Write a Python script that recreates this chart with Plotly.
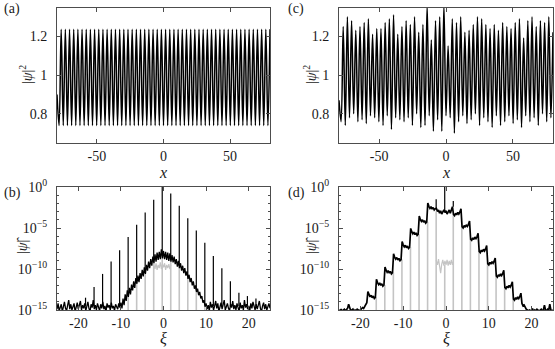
import numpy as np
import plotly.graph_objects as go

# ---------------- data ----------------
# top panels: |psi|^2 extrema, sampled evenly from x=-80 to x=80
a_start = 0.90
a_troughs = [0.74, 0.74, 0.74, 0.74, 0.74, 0.74, 0.74, 0.74, 0.74, 0.74,
             0.74, 0.74, 0.74, 0.74, 0.74, 0.74, 0.74, 0.74, 0.74, 0.74,
             0.74, 0.74, 0.74, 0.74, 0.74, 0.74, 0.74, 0.74, 0.74, 0.74,
             0.74, 0.74, 0.74, 0.74, 0.74, 0.74, 0.74, 0.74, 0.74, 0.74,
             0.74, 0.74, 0.74, 0.74, 0.74, 0.74, 0.74, 0.74, 0.74, 0.74, 0.74]
a_peaks = [1.235, 1.235, 1.235, 1.235, 1.235, 1.235, 1.235, 1.235, 1.235, 1.235,
           1.235, 1.235, 1.235, 1.235, 1.235, 1.235, 1.235, 1.235, 1.235, 1.235,
           1.235, 1.235, 1.235, 1.235, 1.235, 1.235, 1.235, 1.235, 1.235, 1.235,
           1.235, 1.235, 1.235, 1.235, 1.235, 1.235, 1.235, 1.235, 1.235, 1.235,
           1.235, 1.235, 1.235, 1.235, 1.235, 1.235, 1.235, 1.235, 1.235, 1.235, 1.235]

c_start = 0.87
c_troughs = [0.76, 0.74, 0.78, 0.80, 0.76, 0.77, 0.75, 0.79, 0.78, 0.76,
             0.74, 0.79, 0.72, 0.78, 0.77, 0.76, 0.78, 0.74, 0.80, 0.73,
             0.74, 0.79, 0.71, 0.77, 0.71, 0.79, 0.78, 0.70, 0.76, 0.79,
             0.75, 0.77, 0.80, 0.74, 0.78, 0.76, 0.73, 0.79, 0.74, 0.76,
             0.79, 0.75, 0.77, 0.73, 0.79, 0.76, 0.78, 0.74, 0.80, 0.76, 0.78]
c_peaks = [1.25, 1.30, 1.28, 1.23, 1.25, 1.27, 1.29, 1.21, 1.24, 1.24,
           1.27, 1.29, 1.31, 1.21, 1.25, 1.28, 1.26, 1.30, 1.22, 1.26,
           1.36, 1.18, 1.28, 1.30, 1.36, 1.15, 1.29, 1.27, 1.30, 1.22,
           1.23, 1.26, 1.30, 1.29, 1.26, 1.24, 1.26, 1.23, 1.27, 1.25,
           1.24, 1.27, 1.29, 1.19, 1.28, 1.30, 1.25, 1.28, 1.27, 1.30, 1.22]

# bottom panels: log10 |psi_hat| on xi = -25, -24.75, ..., 25
b_log = [
    # xi -25 .. -10.25
    -14.9, -14.2, -15.1, -14.6, -14.3, -15.2, -14.5, -14.0, -14.8, -15.1,
    -14.4, -13.8, -14.9, -14.3, -15.0, -14.6, -14.2, -15.2, -14.7, -14.1,
    -14.9, -14.5, -13.9, -15.0, -14.4, -14.8, -14.2, -15.1, -14.6, -14.0,
    -14.8, -15.2, -14.3, -14.7, -13.8, -14.9, -14.4, -15.0, -14.2, -14.6,
    -15.1, -14.3, -14.8, -14.0, -14.9, -14.5, -15.2, -14.2, -14.7, -14.4,
    -15.0, -14.1, -14.8, -14.5, -15.1, -14.3, -14.6, -14.9, -14.2, -14.7,
    # xi -10 .. 9.75
    -14.1, -14.8, -13.6, -14.4, -13.1, -13.9, -12.6, -13.4, -12.3, -13.1,
    -11.9, -12.6, -11.5, -12.3, -11.1, -11.8, -10.8, -11.6, -10.5, -11.2,
    -10.1, -10.9, -9.8, -10.6, -9.5, -10.2, -9.1, -9.9, -8.8, -9.6,
    -8.5, -9.3, -8.2, -9.1, -8.0, -8.9, -7.9, -8.8, -7.6, -8.7,
    -7.8, -8.8, -7.9, -8.9, -8.0, -9.0, -8.1, -9.1, -8.3, -9.2,
    -8.5, -9.4, -8.8, -9.7, -9.0, -9.9, -9.3, -10.2, -9.6, -10.5,
    -9.9, -10.8, -10.3, -11.2, -10.7, -11.6, -11.1, -12.0, -11.5, -12.4,
    -12.0, -12.8, -12.4, -13.2, -12.8, -13.6, -13.3, -14.1, -13.8, -14.6,
    # xi 10 .. 25
    -14.2, -14.9, -14.4, -15.1, -14.0, -14.7, -14.3, -15.0, -14.5, -13.9,
    -14.8, -14.2, -15.2, -14.6, -14.1, -14.9, -14.4, -13.8, -15.0, -14.5,
    -14.2, -14.8, -15.1, -14.3, -14.7, -13.9, -14.9, -14.4, -15.0, -14.2,
    -14.6, -15.2, -14.1, -14.8, -14.4, -15.0, -13.8, -14.7, -14.3, -14.9,
    -14.5, -15.1, -14.2, -14.8, -14.0, -14.6, -15.0, -14.3, -14.9, -14.4,
    -13.9, -14.8, -15.2, -14.5, -14.1, -14.9, -14.3, -15.0, -14.6, -14.2, -14.8,
]
b_spike_xi = [-18.3, -16.3, -14.3, -12.3, -10.3, -8.3, -6.3, -4.3, -2.3, -0.3,
              1.7, 3.7, 5.7, 7.7, 9.7, 11.7, 13.7, 15.7, 17.7, 19.7, 21.7]
b_spike_base = [-14.5, -14.5, -14.5, -14.5, -14.5, -13.0, -11.5, -10.2, -8.9, -8.3,
                -8.6, -9.6, -11.0, -12.6, -14.3, -14.5, -14.5, -14.5, -14.5, -14.5, -14.5]
b_spike_top = [-13.5, -12.2, -10.6, -9.1, -7.7, -6.1, -4.6, -3.1, -1.55, 0.0,
               -0.8, -2.3, -3.8, -5.3, -6.8, -8.4, -9.9, -11.5, -12.9, -13.3, -13.6]
b_gray_xi = [-8.3, -6.3, -4.3, -2.3, -0.3, 1.7, 3.7, 5.7, 7.7, 9.7]
b_gray_top = [-13.0, -11.5, -10.2, -8.9, -8.3, -8.6, -9.6, -11.0, -12.6, -14.3]
b_block_xi = [-2.3, -2.0, -1.75, -1.5, -1.25, -1.0, -0.75, -0.5, -0.25, 0.0,
              0.25, 0.5, 0.75, 1.0, 1.25, 1.5, 1.7]
b_block_log = [-9.4, -10.0, -9.3, -10.1, -9.5, -9.9, -9.2, -10.0, -9.4, -9.8,
               -9.3, -10.1, -9.5, -9.9, -9.4, -10.0, -9.5]

d_log = [
    # xi -25 .. -20.25 : floor
    -15.0, -15.1, -14.9, -15.2, -15.0, -14.9, -15.1, -15.0, -14.8, -14.3,
    -14.9, -15.1, -15.0, -14.9, -15.2, -15.0, -15.1, -14.9, -15.0, -15.1,
    # xi -20 .. -18.5
    -15.0, -14.9, -14.7, -14.8, -14.5, -14.3, -14.1,
    # xi -18.25 .. -2.5 : rising staircase
    -12.75, -13.15, -13.4, -13.2, -13.5, -13.3, -13.6, -13.45,
    -11.25, -11.65, -11.9, -11.7, -12.0, -11.8, -12.1, -11.95,
    -9.75, -10.15, -10.4, -10.2, -10.5, -10.3, -10.6, -10.45,
    -8.15, -8.55, -8.8, -8.6, -8.9, -8.7, -9.0, -8.85,
    -6.65, -7.05, -7.3, -7.1, -7.4, -7.2, -7.5, -7.35,
    -5.05, -5.45, -5.7, -5.5, -5.8, -5.6, -5.9, -5.75,
    -3.55, -3.95, -4.2, -4.0, -4.3, -4.1, -4.4, -4.25,
    -1.95, -2.35, -2.6, -2.4, -2.7, -2.5, -2.8, -2.65,
    # xi -2.25 .. 1.5 : centre
    -2.6, -3.0, -2.8, -3.2, -2.9, -3.3, -3.0, -2.8,
    -3.1, -2.9, -3.3, -3.0, -2.8, -3.2, -2.7, -2.4,
    # xi 1.75 .. 17.5 : falling staircase
    -3.35, -3.5, -3.2, -3.4, -3.1, -3.3, -3.05, -2.65,
    -4.85, -5.0, -4.7, -4.9, -4.6, -4.8, -4.55, -4.15,
    -6.35, -6.5, -6.2, -6.4, -6.1, -6.3, -6.05, -5.65,
    -7.85, -8.0, -7.7, -7.9, -7.6, -7.8, -7.55, -7.15,
    -9.35, -9.5, -9.2, -9.4, -9.1, -9.3, -9.05, -8.65,
    -10.85, -11.0, -10.7, -10.9, -10.6, -10.8, -10.55, -10.15,
    -12.25, -12.4, -12.1, -12.3, -12.0, -12.2, -11.95, -11.55,
    -13.65, -13.8, -13.5, -13.7, -13.4, -13.6, -13.35, -12.95,
    # xi 17.75 .. 19.5
    -14.2, -14.5, -14.4, -14.7, -14.9, -15.0, -15.1, -15.0,
    # xi 19.75 .. 25 : floor
    -15.1, -15.0, -14.9, -15.2, -15.0, -15.1, -14.9, -15.0, -15.2, -15.0,
    -14.9, -15.1, -15.0, -14.4, -15.0, -15.1, -14.9, -15.0, -14.3, -15.0,
    -15.1, -15.0,
]
d_spike_xi = [-2.3, -0.3, 1.7]
d_spike_base = [-2.65, -3.0, -2.4]
d_spike_top = [-1.5, 0.0, -1.7]
d_gray_xi = [-16.3, -14.3, -12.3, -10.3, -8.3, -6.3, -4.3, -2.3, -0.3,
             1.7, 3.7, 5.7, 7.7, 9.7, 11.7, 13.7, 15.7]
d_gray_top = [-13.45, -11.95, -10.45, -8.85, -7.35, -5.75, -4.25, -3.0, -9.5,
              -3.35, -4.85, -6.35, -7.85, -9.35, -10.85, -12.25, -13.65]
d_block_xi = [-2.3, -2.0, -1.75, -1.5, -1.25, -1.0, -0.75, -0.5, -0.25, 0.0,
              0.25, 0.5, 0.75, 1.0, 1.25, 1.5, 1.7]
d_block_log = [-8.9, -9.5, -8.8, -9.6, -10.5, -9.4, -8.9, -9.6, -9.0, -9.5,
               -8.9, -9.6, -9.0, -9.5, -8.9, -9.5, -9.1]

# ---------------- helpers ----------------
def zigzag(start, troughs, peaks):
    y = [start]
    for t, p in zip(troughs, peaks):
        y += [t, p]
    return np.linspace(-80, 80, len(y)), y


def sticks(xs, lo, hi):
    sx, sy = [], []
    for x, a, b in zip(xs, lo, hi):
        sx += [x, x, None]
        sy += [10.0 ** a, 10.0 ** b, None]
    return sx, sy


BLACK = "black"
GRAY = "#c4c4c4"

fig = go.Figure()

for xa, ya, (start, tr, pk) in [("x", "y", (a_start, a_troughs, a_peaks)),
                                ("x2", "y2", (c_start, c_troughs, c_peaks))]:
    xs, ys = zigzag(start, tr, pk)
    fig.add_trace(go.Scatter(x=xs, y=ys, mode="lines", xaxis=xa, yaxis=ya,
                             line=dict(color=BLACK, width=1.5, shape="spline")))

panels = [
    ("x3", "y3", b_log, b_gray_xi, b_gray_top, b_block_xi, b_block_log,
     b_spike_xi, b_spike_base, b_spike_top, 1.3),
    ("x4", "y4", d_log, d_gray_xi, d_gray_top, d_block_xi, d_block_log,
     d_spike_xi, d_spike_base, d_spike_top, 1.7),
]
for xa, ya, vals, gx, gtop, bx, blog, sx_, sbase, stop, lw in panels:
    xi = np.linspace(-25, 25, len(vals))
    gxs, gys = sticks(gx, [-16.5] * len(gx), gtop)
    fig.add_trace(go.Scatter(x=gxs, y=gys, mode="lines", xaxis=xa, yaxis=ya,
                             line=dict(color=GRAY, width=1.6)))
    fig.add_trace(go.Scatter(x=bx, y=10.0 ** np.array(blog), mode="lines",
                             xaxis=xa, yaxis=ya, line=dict(color=GRAY, width=1.2)))
    fig.add_trace(go.Scatter(x=xi, y=10.0 ** np.array(vals), mode="lines",
                             xaxis=xa, yaxis=ya, line=dict(color=BLACK, width=lw)))
    kx, ky = sticks(sx_, sbase, stop)
    fig.add_trace(go.Scatter(x=kx, y=ky, mode="lines", xaxis=xa, yaxis=ya,
                             line=dict(color=BLACK, width=1.2)))

# ---------------- layout ----------------
W, H = 555, 349
FONT = "Liberation Serif"
AXC = "#4d4d4d"
ax = dict(showline=True, linecolor=AXC, linewidth=1, mirror="ticks",
          ticks="inside", ticklen=4, tickcolor=AXC, showgrid=False,
          zeroline=False, automargin=False,
          tickfont=dict(family=FONT, size=14, color="#1a1a1a"))

xd_left = [57 / W, 270 / W]
xd_right = [339 / W, 553 / W]
yd_top = [(H - 143) / H, (H - 8) / H]
yd_bot = [(H - 310) / H, (H - 187) / H]

top_x = dict(ax, range=[-80, 80], tickvals=[-50, 0, 50],
             ticktext=["-50", "0", "50"], ticklabelstandoff=0)
top_y = dict(ax, range=[0.65, 1.345], tickvals=[0.8, 1, 1.2],
             ticktext=["0.8", "1", "1.2"], ticklabelstandoff=6)
bot_x = dict(ax, range=[-25, 25], tickvals=[-20, -10, 0, 10, 20],
             ticktext=["-20", "-10", "0", "10", "20"], ticklabelstandoff=0)
bot_y = dict(ax, type="log", range=[-15, 0],
             tickvals=[1e-15, 1e-10, 1e-5, 1],
             ticktext=["10<sup>\u221215</sup>", "10<sup>\u221210</sup>",
                       "10<sup>\u22125</sup>", "10<sup>0</sup>"],
             ticklabelstandoff=6,
             minor=dict(tickvals=[10.0 ** -k for k in range(1, 15)],
                        ticks="inside", ticklen=2, tickcolor=AXC))

fig.update_layout(
    width=W, height=H, showlegend=False,
    paper_bgcolor="white", plot_bgcolor="white",
    margin=dict(l=0, r=0, t=0, b=0),
    xaxis=dict(top_x, domain=xd_left, anchor="y"),
    yaxis=dict(top_y, domain=yd_top, anchor="x"),
    xaxis2=dict(top_x, domain=xd_right, anchor="y2"),
    yaxis2=dict(top_y, domain=yd_top, anchor="x2"),
    xaxis3=dict(bot_x, domain=xd_left, anchor="y3"),
    yaxis3=dict(bot_y, domain=yd_bot, anchor="x3"),
    xaxis4=dict(bot_x, domain=xd_right, anchor="y4"),
    yaxis4=dict(bot_y, domain=yd_bot, anchor="x4"),
)


def note(text, x, y, size=14, angle=0):
    fig.add_annotation(text=text, x=x / W, y=1 - y / H, xref="paper", yref="paper",
                       xanchor="center", yanchor="middle",
                       showarrow=False, textangle=angle,
                       font=dict(family=FONT, size=size, color="#1a1a1a"))


note("(a)", 12, 9)
note("(c)", 296, 9)
note("(b)", 12, 193)
note("(d)", 296, 193)
note("<i>x</i>", 163, 172, 16)
note("<i>x</i>", 446, 172, 16)
note("<i>\u03be</i>", 163, 338, 16)
note("<i>\u03be</i>", 446, 338, 16)
note("|<i>\u03c8</i>|<sup>2</sup>", 26, 75, 14, -90)
note("|<i>\u03c8</i>|<sup>2</sup>", 310, 75, 14, -90)
note("|<i>\u03c8\u0302</i>|", 22, 245, 14, -90)
note("|<i>\u03c8\u0302</i>|", 311, 245, 14, -90)

# the page's default body margin would shift the figure by 8px
fig.write_html("out.html", config={"displayModeBar": False},
               post_script="document.body.style.margin='0px';")
